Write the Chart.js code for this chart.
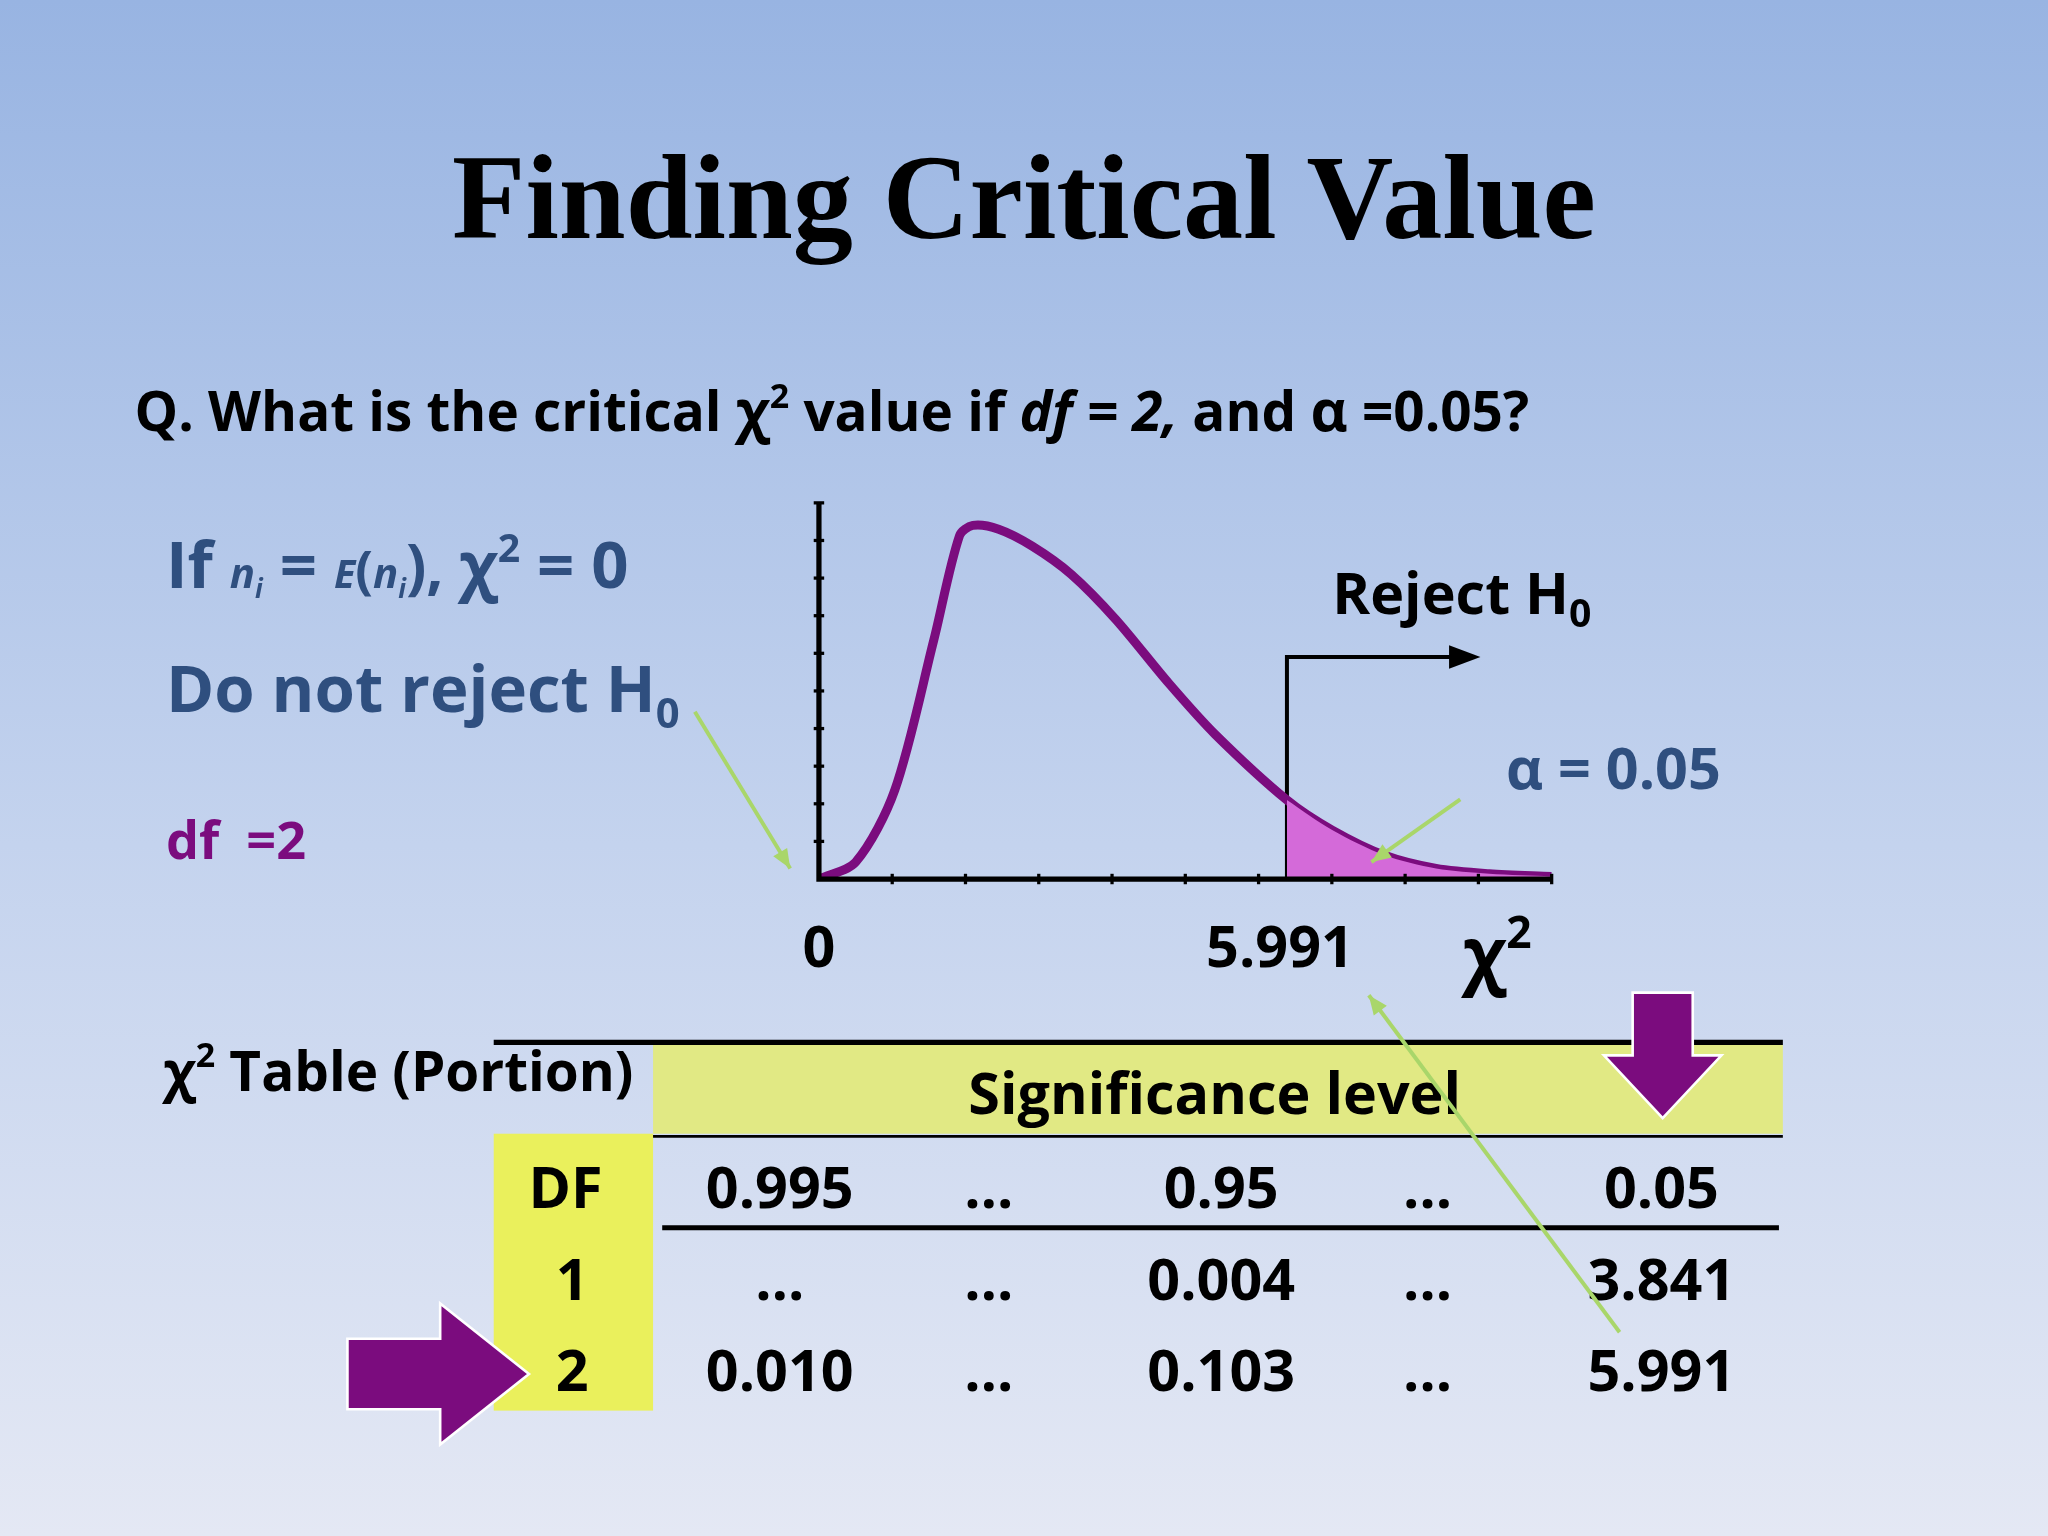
<!DOCTYPE html>
<html><head><meta charset="utf-8">
<script src="https://cdn.jsdelivr.net/npm/chart.js@4"></script>
<style>html,body{margin:0;padding:0;overflow:hidden}#wrap{width:2048px;height:1536px;position:relative}</style>
</head><body><div id="wrap"><canvas id="c" width="2048" height="1536"></canvas></div>
<script>
// curve (x = chi-square, y = relative density)
const chiX = [0, 0.47, 0.97, 1.47, 1.8, 1.97, 2.3, 2.73, 3.23, 3.8, 4.48, 5.07, 5.991, 6.57, 7.24, 7.9, 8.58, 9.38];
const density = [0, 0.045, 0.236, 0.635, 0.913, 0.94, 0.93, 0.885, 0.81, 0.69, 0.52, 0.385, 0.21, 0.13, 0.063, 0.028, 0.014, 0.007];
const critical = 5.991;
const xMax = 9.38;
const yMax = 1;
const rejectLine = [{x: critical, y: 0}, {x: critical, y: 0.59}, {x: 8.1, y: 0.59}];

const tableHead = ["DF", "0.995", "…", "0.95", "…", "0.05"];
const tableRows = [["1", "…", "…", "0.004", "…", "3.841"], ["2", "0.010", "…", "0.103", "…", "5.991"]];

const S = 2048 / 1568;
const SANS = '"Open Sans", "Noto Sans", sans-serif';
const BLUE = '#2f4f7f', PURPLE = '#7b0c7e';

const curve = chiX.map((x, i) => ({x, y: density[i]}));
const tail = curve.filter(p => p.x >= critical);

function txt(ctx, s, x, y, size, color, o = {}) {
  ctx.font = (o.italic ? 'italic ' : '') + (o.bold === false ? '' : 'bold ') + (size * S) + 'px ' + (o.family || SANS);
  ctx.fillStyle = color;
  ctx.textAlign = o.align || 'left';
  ctx.textBaseline = 'alphabetic';
  ctx.fillText(s, x * S, y * S);
  return x + ctx.measureText(s).width / S;
}
// draw a run of segments left to right: [text, size, dy, italic]
function run(ctx, x, y, color, parts, align) {
  let w = 0;
  parts.forEach(p => { ctx.font = (p[3] ? 'italic ' : '') + 'bold ' + (p[1] * S) + 'px ' + SANS; w += ctx.measureText(p[0]).width / S; });
  if (align === 'center') x -= w / 2;
  parts.forEach(p => { x = txt(ctx, p[0], x, y + (p[2] || 0), p[1], color, {italic: p[3]}); });
}
function line(ctx, pts, color, w) {
  ctx.beginPath(); ctx.strokeStyle = color; ctx.lineWidth = w * S;
  pts.forEach((p, i) => i ? ctx.lineTo(p[0] * S, p[1] * S) : ctx.moveTo(p[0] * S, p[1] * S));
  ctx.stroke();
}
function poly(ctx, pts, color) {
  ctx.beginPath(); ctx.fillStyle = color;
  pts.forEach((p, i) => i ? ctx.lineTo(p[0] * S, p[1] * S) : ctx.moveTo(p[0] * S, p[1] * S));
  ctx.closePath(); ctx.fill();
}
function arrow(ctx, x1, y1, x2, y2, color, w, head) {
  line(ctx, [[x1, y1], [x2, y2]], color, w);
  const a = Math.atan2(y2 - y1, x2 - x1);
  poly(ctx, [[x2, y2], [x2 - head * Math.cos(a - 0.4), y2 - head * Math.sin(a - 0.4)], [x2 - head * Math.cos(a + 0.4), y2 - head * Math.sin(a + 0.4)]], color);
}

const background = {
  id: 'background',
  beforeDraw(chart) {
    const ctx = chart.ctx, h = chart.height;
    const g = ctx.createLinearGradient(0, 0, 0, h);
    g.addColorStop(0, '#98b4e2'); g.addColorStop(0.55, '#c4d3ee'); g.addColorStop(1, '#e4e8f4');
    ctx.fillStyle = g; ctx.fillRect(0, 0, chart.width, h);
    // table shading
    ctx.fillStyle = '#e1e984'; ctx.fillRect(500 * S, 800 * S, 865 * S, 68 * S);
    ctx.fillStyle = '#eaf05c'; ctx.fillRect(378 * S, 868 * S, 122 * S, 212 * S);
  }
};

const slide = {
  id: 'slide',
  afterDraw(chart) {
    const ctx = chart.ctx, xs = chart.scales.x, ys = chart.scales.y;
    ctx.save();
    // axes
    const x0 = xs.getPixelForValue(0), y0 = ys.getPixelForValue(0);
    ctx.strokeStyle = '#000'; ctx.lineWidth = 4 * S;
    ctx.beginPath(); ctx.moveTo(x0, ys.getPixelForValue(yMax)); ctx.lineTo(x0, y0); ctx.lineTo(xs.getPixelForValue(xMax), y0); ctx.stroke();
    ctx.lineWidth = 2.5 * S;
    for (let i = 1; i <= 10; i++) {
      const py = ys.getPixelForValue(i * yMax / 10);
      ctx.beginPath(); ctx.moveTo(x0 - 4 * S, py); ctx.lineTo(x0 + 4 * S, py); ctx.stroke();
      const px = xs.getPixelForValue(i * xMax / 10);
      ctx.beginPath(); ctx.moveTo(px, y0 - 4 * S); ctx.lineTo(px, y0 + 4 * S); ctx.stroke();
    }
    // arrow head of reject line
    const ax = xs.getPixelForValue(rejectLine[2].x) / S, ay = ys.getPixelForValue(rejectLine[2].y) / S;
    poly(ctx, [[ax + 22, ay], [ax - 2, ay - 9], [ax - 2, ay + 9]], '#000');

    // title and text
    txt(ctx, 'Finding Critical Value', 784, 182, 92, '#000', {family: '"Liberation Serif", serif', align: 'center'});
    run(ctx, 103, 330, '#000', [['Q. What is the critical ', 42], ['χ', 44], ['2', 26, -18], [' value if ', 42], ['df = 2,', 42, 0, true], [' and ', 42], ['α', 44], [' =0.05?', 42]]);
    run(ctx, 127, 450, BLUE, [['If ', 50], ['n', 32, 0, true], ['i', 20, 8, true], [' = ', 50], ['E', 30, 0, true], ['(', 40], ['n', 32, 0, true], ['i', 20, 8, true], ['), ', 46], ['χ', 50], ['2', 30, -20], [' = 0', 50]]);
    run(ctx, 127, 545, BLUE, [['Do not reject H', 50], ['0', 32, 12]]);
    run(ctx, 127, 658, PURPLE, [['df  =2', 40]]);
    run(ctx, 1020, 470, '#000', [['Reject H', 44], ['0', 30, 10]]);
    run(ctx, 1153, 604, BLUE, [['α = 0.05', 44]]);
    txt(ctx, '0', 627, 740, 44, '#000', {align: 'center'});
    txt(ctx, '5.991', 980, 740, 44, '#000', {align: 'center'});
    run(ctx, 1120, 750, '#000', [['χ', 56], ['2', 34, -24]]);
    run(ctx, 125, 835, '#000', [['χ', 42], ['2', 26, -18], [' Table (Portion)', 42]]);
    txt(ctx, 'Significance level', 930, 853, 44, '#000', {align: 'center'});

    // table
    const colX = [438, 597, 757, 935, 1093, 1272];
    tableHead.forEach((s, i) => txt(ctx, s, i ? colX[i] : 433, 925, 44, '#000', {align: 'center'}));
    tableRows.forEach((r, j) => r.forEach((s, i) => txt(ctx, s, colX[i], 995 + j * 70, 44, '#000', {align: 'center'})));
    line(ctx, [[378, 798], [1365, 798]], '#000', 4);
    line(ctx, [[500, 870], [1365, 870]], '#000', 2);
    line(ctx, [[507, 940], [1362, 940]], '#000', 4);

    // purple block arrows
    const pa = (pts) => { poly(ctx, pts, PURPLE); ctx.strokeStyle = '#fff'; ctx.lineWidth = 2 * S;
      ctx.beginPath(); pts.forEach((p, i) => i ? ctx.lineTo(p[0] * S, p[1] * S) : ctx.moveTo(p[0] * S, p[1] * S)); ctx.closePath(); ctx.stroke(); };
    pa([[1250, 760], [1296, 760], [1296, 808], [1318, 808], [1273, 856], [1228, 808], [1250, 808]]);
    pa([[266, 1025], [337, 1025], [337, 998], [405, 1052], [337, 1106], [337, 1079], [266, 1079]]);

    // green pointers
    const G = '#a9d66a';
    arrow(ctx, 532, 545, 605, 665, G, 3, 16);
    arrow(ctx, 1118, 612, 1050, 660, G, 3, 16);
    arrow(ctx, 1240, 1020, 1048, 762, G, 3, 16);
    ctx.restore();
  }
};

new Chart(document.getElementById('c'), {
  type: 'scatter',
  data: {
    datasets: [
      {data: tail, showLine: true, fill: 'origin', backgroundColor: '#d46ad9', borderWidth: 0, pointRadius: 0, tension: 0.3},
      {data: curve, showLine: true, borderColor: PURPLE, borderWidth: 9, pointRadius: 0, tension: 0.3, fill: false},
      {data: rejectLine, showLine: true, borderColor: '#000', borderWidth: 4, pointRadius: 0, fill: false}
    ]
  },
  options: {
    responsive: false, animation: false, devicePixelRatio: 1,
    layout: {padding: {left: 627 * S, top: 385 * S, right: 2048 - 1188 * S, bottom: 1536 - 673 * S}},
    plugins: {legend: {display: false}, tooltip: {enabled: false}},
    scales: {
      x: {type: 'linear', min: 0, max: xMax, display: false},
      y: {min: 0, max: yMax, display: false}
    }
  },
  plugins: [background, slide]
});
</script>
</body></html>
